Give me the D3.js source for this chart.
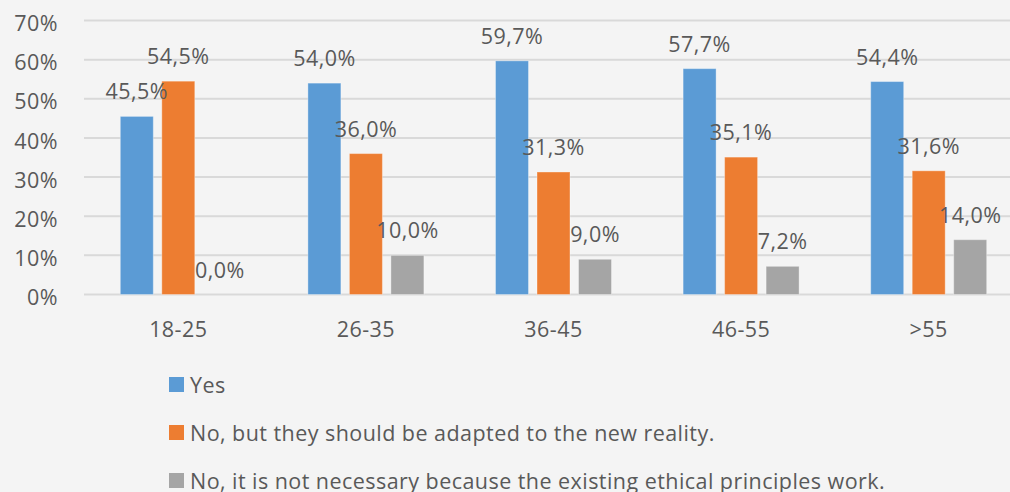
<!DOCTYPE html>
<html><head><meta charset="utf-8">
<script src="https://cdn.jsdelivr.net/npm/d3@7"></script>
<style>html,body{margin:0;padding:0;background:#f4f4f4;}svg{display:block;}</style>
</head><body>
<script>
const categories = ["18-25", "26-35", "36-45", "46-55", ">55"];
const seriesNames = ["Yes", "No, but they should be adapted to the new reality.", "No, it is not necessary because the existing ethical principles work."];
const yesValues = [45.5, 54.0, 59.7, 57.7, 54.4];
const noAdaptValues = [54.5, 36.0, 31.3, 35.1, 31.6];
const noNecessaryValues = [0.0, 10.0, 9.0, 7.2, 14.0];
const yTicks = [0, 10, 20, 30, 40, 50, 60, 70];
const colors = ["#5b9bd5", "#ed7d31", "#a5a5a5"];

const W = 1010, H = 492;
const svg = d3.select("body").append("svg").attr("width", W).attr("height", H);
svg.append("rect").attr("width", W).attr("height", H).attr("fill", "#f4f4f4");
const font = "'Open Sans', 'Noto Sans', sans-serif";
const textColor = "#595959";
const fs = 21.5, ls = 0.45;

const seriesValues = [yesValues, noAdaptValues, noNecessaryValues];
const x0 = d3.scaleBand().domain(categories).range([84.5, 84.5 + 5 * 187.6]).paddingInner(0).paddingOuter(0);
const y = d3.scaleLinear().domain([0, 70]).range([294.5, 20.5]);
const barW = 33, gap = 8.5;
const groupW = 3 * barW + 2 * gap;

// gridlines
svg.append("g").selectAll("line").data(yTicks).join("line")
  .attr("x1", 84).attr("x2", W)
  .attr("y1", d => y(d)).attr("y2", d => y(d))
  .attr("stroke", "#d9d9d9").attr("stroke-width", 2);

// y axis labels
const yAxis = d3.axisLeft(y).tickValues(yTicks).tickFormat(d => d + "%").tickSize(0).tickPadding(0);
const ya = svg.append("g").attr("transform", "translate(58,0)").call(yAxis);
ya.select(".domain").remove();
ya.selectAll("text").attr("font-family", font).attr("font-size", fs).attr("letter-spacing", ls).attr("fill", textColor).attr("dy", "0.47em");

// x axis labels
const xAxis = d3.axisBottom(x0).tickSize(0).tickPadding(0);
const xa = svg.append("g").attr("transform", "translate(0,337)").call(xAxis);
xa.select(".domain").remove();
xa.selectAll("text").attr("font-family", font).attr("font-size", fs).attr("letter-spacing", ls).attr("fill", textColor).attr("dy", 0);

// bars
const data = [];
categories.forEach((c, i) => {
  seriesValues.forEach((vals, s) => data.push({cat: c, s, v: vals[i]}));
});
const barX = d => x0(d.cat) + (x0.bandwidth() - groupW) / 2 + d.s * (barW + gap);
svg.append("g").selectAll("rect").data(data).join("rect")
  .attr("x", barX).attr("width", barW)
  .attr("y", d => y(d.v)).attr("height", d => y(0) - y(d.v))
  .attr("fill", d => colors[d.s])
  .attr("stroke", "rgba(255,255,255,0.35)").attr("stroke-width", 1);

// labels
svg.append("g").selectAll("text").data(data).join("text")
  .attr("x", d => barX(d) + barW / 2)
  .attr("y", d => y(d.v) - 17)
  .attr("text-anchor", "middle")
  .attr("font-family", font).attr("font-size", fs).attr("letter-spacing", ls).attr("fill", textColor)
  .text(d => d.v.toFixed(1).replace(".", ",") + "%");

// legend
const lg = svg.append("g").selectAll("g").data(seriesNames).join("g")
  .attr("transform", (d, i) => `translate(169,${377 + i * 48})`);
lg.append("rect").attr("width", 15).attr("height", 15).attr("fill", (d, i) => colors[i]);
lg.append("text").attr("x", 21).attr("y", 15.5)
  .attr("font-family", font).attr("font-size", fs).attr("letter-spacing", ls).attr("fill", textColor).text(d => d);
</script>
</body></html>
